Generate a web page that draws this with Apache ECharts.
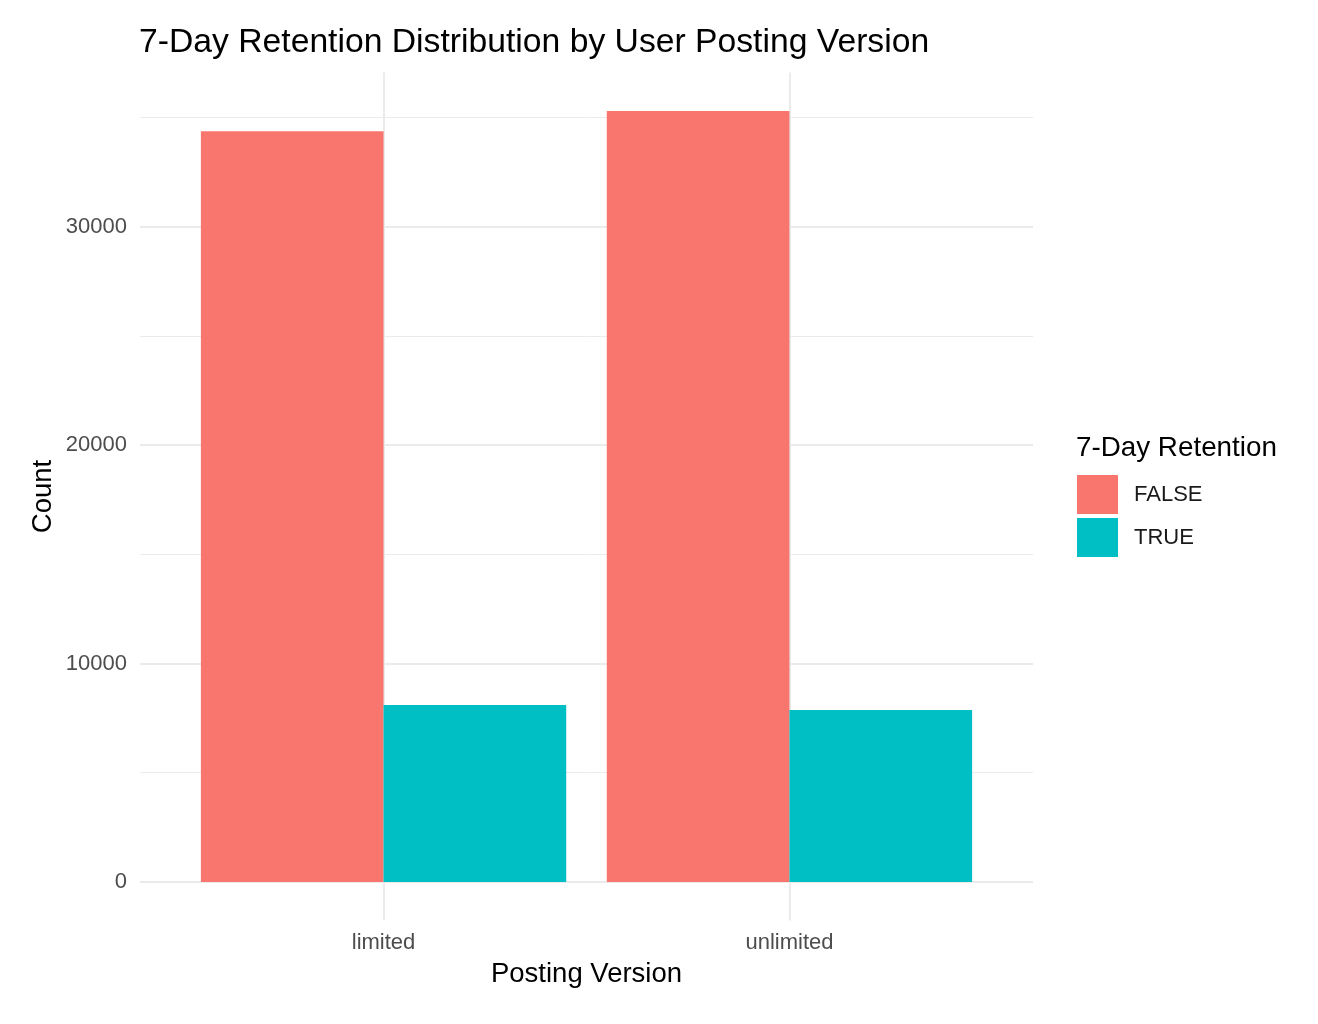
<!DOCTYPE html>
<html>
<head>
<meta charset="utf-8">
<script src="https://cdn.jsdelivr.net/npm/echarts@6/dist/echarts.min.js"></script>
<style>html,body{margin:0;padding:0;background:#fff;}#chart{width:1318px;height:1024px;}</style>
</head>
<body>
<div id="chart"></div>
<script>
// ---- data ----
const categories = ['limited', 'unlimited'];
const seriesNames = ['FALSE', 'TRUE'];
const falseValues = [34370, 35290];
const trueValues = [8100, 7870];
const majorTicks = [0, 10000, 20000, 30000];
const minorTicks = [5000, 15000, 25000, 35000];

// ---- layout ----
const FONT = '"Liberation Sans", Arial, Helvetica, sans-serif';
const W = 1318, H = 1024;
const panelLeft = 140, panelRight = 1033, panelTop = 72.5, panelBottom = 920.5;
const dataMax = Math.max(...falseValues, ...trueValues);
const yMin = -0.05 * dataMax, yMax = 1.05 * dataMax;
const pxPerUnit = (panelBottom - panelTop) / (yMax - yMin);
const yPix = v => panelBottom - (v - yMin) * pxPerUnit;
// ggplot discrete expansion: 0.6 units each side
const unit = (panelRight - panelLeft) / (categories.length - 1 + 1.2);
const barGridLeft = panelLeft + 0.1 * unit;
const barGridRight = panelRight - 0.1 * unit;

const majStep = majorTicks[1] - majorTicks[0];
const minStep = minorTicks[1] - minorTicks[0];
const majMin = majorTicks[0], majMax = majorTicks[majorTicks.length - 1];
const minMin = minorTicks[0], minMax = minorTicks[minorTicks.length - 1];

const chart = echarts.init(document.getElementById('chart'), null, {renderer: 'canvas'});
const gridLine = '#ebebeb';

chart.setOption({
  animation: false,
  backgroundColor: '#ffffff',
  textStyle: {fontFamily: FONT},
  title: [
    {text: '7-Day Retention Distribution by User Posting Version', left: panelLeft - 6, top: 21,
     textStyle: {fontFamily: FONT, fontSize: 33.7, fontWeight: 'normal', color: '#000'}},
    {text: '7-Day Retention', left: 1071, top: 429,
     textStyle: {fontFamily: FONT, fontSize: 27.8, fontWeight: 'normal', color: '#000'}}
  ],
  legend: {
    orient: 'vertical', left: 1072, top: 470,
    icon: 'rect', itemWidth: 41, itemHeight: 39, itemGap: 4,
    data: seriesNames,
    textStyle: {fontFamily: FONT, fontSize: 22, color: '#1a1a1a', padding: [0, 0, 0, 11]},
    selectedMode: false
  },
  grid: [
    // major horizontal gridlines + tick labels
    {left: panelLeft, right: W - panelRight, top: yPix(majMax), bottom: H - yPix(majMin), containLabel: false},
    // minor horizontal gridlines
    {left: panelLeft, right: W - panelRight, top: yPix(minMax), bottom: H - yPix(minMin), containLabel: false},
    // bars
    {left: barGridLeft, right: W - barGridRight, top: panelTop, bottom: H - panelBottom, containLabel: false}
  ],
  xAxis: [
    {gridIndex: 0, type: 'value', show: false},
    {gridIndex: 1, type: 'value', show: false},
    {gridIndex: 2, type: 'category', data: categories,
     axisLine: {show: false}, axisTick: {show: false},
     axisLabel: {fontFamily: FONT, fontSize: 22, color: '#4d4d4d', margin: 11},
     splitLine: {show: true, alignWithLabel: true, lineStyle: {color: gridLine, width: 2}},
     name: 'Posting Version', nameLocation: 'middle', nameGap: 40,
     nameTextStyle: {fontFamily: FONT, fontSize: 27.5, color: '#000'}}
  ],
  yAxis: [
    {gridIndex: 0, type: 'value', min: majMin, max: majMax, interval: majStep,
     axisLine: {show: false}, axisTick: {show: false},
     axisLabel: {fontFamily: FONT, fontSize: 22, color: '#4d4d4d', margin: 13,
                 formatter: v => String(v), padding: [5, 0, 0, 0]},
     splitLine: {show: true, lineStyle: {color: gridLine, width: 2}}},
    {gridIndex: 1, type: 'value', min: minMin, max: minMax, interval: minStep,
     axisLine: {show: false}, axisTick: {show: false}, axisLabel: {show: false},
     splitLine: {show: true, lineStyle: {color: gridLine, width: 1}}},
    {gridIndex: 2, type: 'value', min: yMin, max: yMax,
     axisLine: {show: false}, axisTick: {show: false}, axisLabel: {show: false},
     splitLine: {show: false},
     name: 'Count', nameLocation: 'middle', nameGap: 123,
     nameTextStyle: {fontFamily: FONT, fontSize: 27.5, color: '#000'}}
  ],
  series: [
    {name: seriesNames[0], type: 'bar', xAxisIndex: 2, yAxisIndex: 2, data: falseValues,
     barGap: '0%', barCategoryGap: '10%', itemStyle: {color: '#F8766D'}},
    {name: seriesNames[1], type: 'bar', xAxisIndex: 2, yAxisIndex: 2, data: trueValues,
     barGap: '0%', barCategoryGap: '10%', itemStyle: {color: '#00BFC4'}}
  ]
});
</script>
</body>
</html>
